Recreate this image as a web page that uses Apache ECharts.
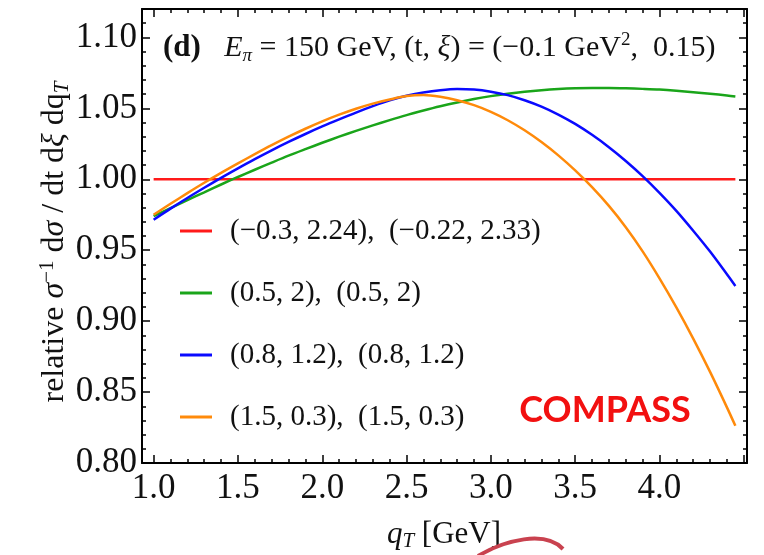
<!DOCTYPE html>
<html>
<head>
<meta charset="utf-8">
<script src="https://cdn.jsdelivr.net/npm/echarts@6/dist/echarts.min.js"></script>
<style>
  html, body { margin: 0; padding: 0; background: #ffffff; }
  #chart { width: 764px; height: 555px; }
</style>
</head>
<body>
<div id="chart"></div>
<script>
// q_T sample points (GeV)
const qT = [1.0, 1.1, 1.2, 1.3, 1.4, 1.5, 1.6, 1.7, 1.8, 1.9, 2.0, 2.1, 2.2, 2.3, 2.4, 2.5,
            2.6, 2.7, 2.8, 2.9, 3.0, 3.1, 3.2, 3.3, 3.4, 3.5, 3.6, 3.7, 3.8, 3.9, 4.0, 4.1,
            4.2, 4.3, 4.4, 4.45];

// relative cross section for each parameter set
const redVals = [1.0, 1.0, 1.0, 1.0, 1.0, 1.0, 1.0, 1.0, 1.0, 1.0, 1.0, 1.0, 1.0, 1.0, 1.0, 1.0,
                 1.0, 1.0, 1.0, 1.0, 1.0, 1.0, 1.0, 1.0, 1.0, 1.0, 1.0, 1.0, 1.0, 1.0, 1.0, 1.0,
                 1.0, 1.0, 1.0, 1.0];
const greenVals = [0.9740, 0.9797, 0.9853, 0.9908, 0.9963, 1.0016, 1.0067, 1.0117, 1.0166, 1.0212,
                   1.0257, 1.0300, 1.0341, 1.0380, 1.0417, 1.0452, 1.0484, 1.0514, 1.0541, 1.0565,
                   1.0586, 1.0603, 1.0617, 1.0628, 1.0636, 1.0641, 1.0643, 1.0643, 1.0641, 1.0637,
                   1.0632, 1.0624, 1.0614, 1.0603, 1.0590, 1.0583];
const blueVals = [0.9715, 0.9793, 0.9868, 0.9940, 1.0010, 1.0077, 1.0142, 1.0204, 1.0263, 1.0319,
                  1.0372, 1.0422, 1.0470, 1.0515, 1.0556, 1.0588, 1.0612, 1.0628, 1.0636, 1.0632,
                  1.0617, 1.0593, 1.0557, 1.0512, 1.0456, 1.0390, 1.0313, 1.0226, 1.0129, 1.0022,
                  0.9904, 0.9777, 0.9637, 0.9490, 0.9330, 0.9248];
const orangeVals = [0.9750, 0.9827, 0.9902, 0.9975, 1.0045, 1.0112, 1.0177, 1.0240, 1.0300, 1.0356,
                    1.0408, 1.0455, 1.0497, 1.0533, 1.0562, 1.0586, 1.0593, 1.0581, 1.0557, 1.0522,
                    1.0475, 1.0416, 1.0345, 1.0262, 1.0168, 1.0062, 0.9944, 0.9812, 0.9662, 0.9492,
                    0.9302, 0.9097, 0.8877, 0.8642, 0.8392, 0.8262];

const seriesNames = [
  '(\u22120.3, 2.24),  (\u22120.22, 2.33)',
  '(0.5, 2),  (0.5, 2)',
  '(0.8, 1.2),  (0.8, 1.2)',
  '(1.5, 0.3),  (1.5, 0.3)'
];
const seriesColors = ['#ff1a1a', '#1aa51a', '#0a0aff', '#ff8a0a'];
const seriesValues = [redVals, greenVals, blueVals, orangeVals];

// axis ticks
const xMajorTicks = [1.0, 1.5, 2.0, 2.5, 3.0, 3.5, 4.0, 4.5];
const xMinorTicks = [1.0, 1.1, 1.2, 1.3, 1.4, 1.5, 1.6, 1.7, 1.8, 1.9, 2.0, 2.1, 2.2, 2.3, 2.4, 2.5,
                     2.6, 2.7, 2.8, 2.9, 3.0, 3.1, 3.2, 3.3, 3.4, 3.5, 3.6, 3.7, 3.8, 3.9, 4.0, 4.1,
                     4.2, 4.3, 4.4, 4.5];
const xLabelTicks = [1.0, 1.5, 2.0, 2.5, 3.0, 3.5, 4.0];
const yMajorTicks = [0.80, 0.85, 0.90, 0.95, 1.00, 1.05, 1.10];
const yMinorTicks = [0.80, 0.81, 0.82, 0.83, 0.84, 0.85, 0.86, 0.87, 0.88, 0.89, 0.90, 0.91, 0.92,
                     0.93, 0.94, 0.95, 0.96, 0.97, 0.98, 0.99, 1.00, 1.01, 1.02, 1.03, 1.04, 1.05,
                     1.06, 1.07, 1.08, 1.09, 1.10, 1.11];

const SERIF = '"Liberation Serif", "Times New Roman", serif';
const X_MIN = 0.931, X_MAX = 4.519, Y_MIN = 0.80, Y_MAX = 1.12;

function frameAxis(kind, position, ticks, len, showLine, labelTicks, digits) {
  const ax = {
    type: 'value',
    position: position,
    min: kind === 'x' ? X_MIN : Y_MIN,
    max: kind === 'x' ? X_MAX : Y_MAX,
    axisLine: { show: showLine, onZero: false, lineStyle: { color: '#000', width: 2 } },
    axisTick: { show: true, inside: true, length: len, customValues: ticks,
                lineStyle: { color: '#000', width: 1.5 } },
    splitLine: { show: false },
    minorTick: { show: false },
    axisLabel: { show: false }
  };
  if (labelTicks) {
    ax.axisLabel = {
      show: true,
      customValues: labelTicks,
      formatter: v => v.toFixed(digits),
      fontFamily: SERIF,
      fontSize: 35,
      color: '#111',
      margin: kind === 'x' ? 8 : 5
    };
  }
  return ax;
}

const chart = echarts.init(document.getElementById('chart'), null, { renderer: 'canvas' });

const option = {
  animation: false,
  backgroundColor: '#ffffff',
  grid: { left: 142, right: 17, top: 9, bottom: 92, containLabel: false },
  xAxis: [
    frameAxis('x', 'bottom', xMajorTicks, 8, true, xLabelTicks, 1),
    frameAxis('x', 'bottom', xMinorTicks, 4, false),
    frameAxis('x', 'top', xMajorTicks, 8, true),
    frameAxis('x', 'top', xMinorTicks, 4, false)
  ],
  yAxis: [
    frameAxis('y', 'left', yMajorTicks, 8, true, yMajorTicks, 2),
    frameAxis('y', 'left', yMinorTicks, 4, false),
    frameAxis('y', 'right', yMajorTicks, 8, true),
    frameAxis('y', 'right', yMinorTicks, 4, false)
  ],
  legend: {
    orient: 'vertical',
    left: 180,
    top: 216,
    padding: 0,
    itemWidth: 32,
    itemHeight: 3,
    itemGap: 32,
    icon: 'rect',
    data: seriesNames,
    textStyle: {
      fontFamily: SERIF,
      fontSize: 29,
      color: '#111',
      lineHeight: 30,
      padding: [0, 0, 0, 13]
    }
  },
  series: seriesNames.map((name, i) => ({
    name: name,
    type: 'line',
    xAxisIndex: 0,
    yAxisIndex: 0,
    data: qT.map((q, k) => [q, seriesValues[i][k]]),
    smooth: 0.3,
    showSymbol: false,
    symbol: 'none',
    color: seriesColors[i],
    lineStyle: { color: seriesColors[i], width: 2.5 },
    z: i === 0 ? 2 : 3
  })),
  graphic: [
    {
      type: 'text',
      left: 163,
      top: 31,
      style: {
        text: '{b|(d)}       {i|E}{sub|\u03c0}{n| = 150 GeV, (t, }{i|\u03be}{n|) = (\u22120.1 GeV}{sup|2}{n|,  0.15)}',
        fill: '#111',
        rich: {
          b: { fontFamily: SERIF, fontSize: 31, fontWeight: 'bold', lineHeight: 34, fill: '#111' },
          n: { fontFamily: SERIF, fontSize: 30, lineHeight: 34, fill: '#111' },
          i: { fontFamily: SERIF, fontSize: 30, fontStyle: 'italic', lineHeight: 34, fill: '#111' },
          sub: { fontFamily: SERIF, fontSize: 19, fontStyle: 'italic', lineHeight: 15, verticalAlign: 'bottom', fill: '#111' },
          sup: { fontFamily: SERIF, fontSize: 19, lineHeight: 15, verticalAlign: 'top', fill: '#111' }
        }
      }
    },
    {
      type: 'text',
      x: 55,
      y: 242,
      rotation: Math.PI / 2,
      style: {
        text: '{n|relative }{i|\u03c3}{sup|\u22121}{n| d}{i|\u03c3}{n| / dt d}{i|\u03be}{n| dq}{sub|T}',
        align: 'center',
        verticalAlign: 'middle',
        textAlign: 'center',
        textVerticalAlign: 'middle',
        fill: '#111',
        rich: {
          n: { fontFamily: SERIF, fontSize: 32, lineHeight: 36, fill: '#111' },
          i: { fontFamily: SERIF, fontSize: 32, fontStyle: 'italic', lineHeight: 36, fill: '#111' },
          sub: { fontFamily: SERIF, fontSize: 21, fontStyle: 'italic', lineHeight: 15, verticalAlign: 'bottom', fill: '#111' },
          sup: { fontFamily: SERIF, fontSize: 21, lineHeight: 13, verticalAlign: 'top', fill: '#111' }
        }
      }
    },
    {
      type: 'text',
      x: 444,
      y: 535,
      style: {
        text: '{i|q}{sub|T}{n| [GeV]}',
        align: 'center',
        verticalAlign: 'middle',
        textAlign: 'center',
        textVerticalAlign: 'middle',
        fill: '#111',
        rich: {
          n: { fontFamily: SERIF, fontSize: 31, lineHeight: 34, fill: '#111' },
          i: { fontFamily: SERIF, fontSize: 31, fontStyle: 'italic', lineHeight: 34, fill: '#111' },
          sub: { fontFamily: SERIF, fontSize: 21, fontStyle: 'italic', lineHeight: 15, verticalAlign: 'bottom', fill: '#111' }
        }
      }
    },
    {
      type: 'text',
      x: 605,
      y: 410,
      style: {
        text: 'COMPASS',
        align: 'center',
        verticalAlign: 'middle',
        textAlign: 'center',
        textVerticalAlign: 'middle',
        fontFamily: 'Lato, "Open Sans", sans-serif',
        fontWeight: 'bold',
        fontSize: 36,
        fill: '#f21010'
      }
    },
    {
      type: 'bezierCurve',
      shape: { x1: 478, y1: 556, cpx1: 505, cpy1: 540, cpx2: 545, cpy2: 530, x2: 563, y2: 549 },
      style: { stroke: '#c9424f', lineWidth: 4, fill: null }
    }
  ]
};

chart.setOption(option);
</script>
</body>
</html>
